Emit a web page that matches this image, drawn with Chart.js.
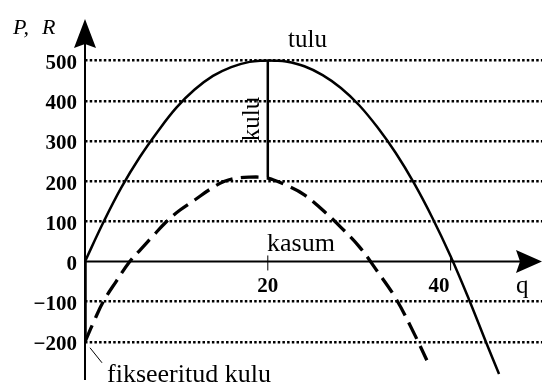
<!DOCTYPE html>
<html>
<head>
<meta charset="utf-8">
<script src="https://cdn.jsdelivr.net/npm/chart.js@4.4.1/dist/chart.umd.min.js"></script>
<style>
  html, body { margin: 0; padding: 0; background: #fff; }
  #wrap { width: 542px; height: 392px; }
</style>
</head>
<body>
<div id="wrap"><canvas id="c"></canvas></div>
<script>
// revenue (tulu)
const revenueQ = [0, 2, 4, 6, 8, 10, 12, 14, 16, 18, 19.5, 20.8, 22, 24, 26, 28, 30, 32, 34, 36, 38, 40, 42, 44, 45.3];
const revenueVal = [0, 97, 185, 260, 325, 383, 428, 462, 484, 497, 500, 500, 498, 486, 464, 432, 389, 334, 270, 195, 109, 13, -94, -208, -280];
// profit (kasum), dashed
const profitQ = [0, 1, 2, 3.4, 4.9, 6.1, 7.3, 8.9, 10.4, 12, 13.7, 15.2, 16.4, 18, 19.7, 20.5, 22, 24, 26, 28, 30, 32, 34, 36, 37.4];
const profitVal = [-200, -148, -100, -50, 0, 30, 60, 99, 128, 153, 180, 199, 207, 210, 209, 204, 190, 166, 128, 85, 37, -25, -92, -179, -246];
// cost bar (kulu) at q = 20
const costQ = [20, 20];
const costVal = [500, 209];
// fixed cost (fikseeritud kulu)
const fixedQ = [0, 0];
const fixedVal = [0, -200];

const yTicks = [500, 400, 300, 200, 100, 0, -100, -200];
const xTicks = [20, 40];

const toPoints = (xs, ys) => xs.map((x, i) => ({ x: x, y: ys[i] }));
const serif = 'Liberation Serif, DejaVu Serif, serif';

const decor = {
  id: 'decor',
  afterDatasetsDraw(chart) {
    const ctx = chart.ctx;
    const xs = chart.scales.x;
    const ys = chart.scales.y;
    const x0 = xs.getPixelForValue(0);
    const y0 = ys.getPixelForValue(0);

    ctx.save();
    ctx.strokeStyle = '#000';
    ctx.fillStyle = '#000';

    // y axis with arrow
    ctx.lineWidth = 2;
    ctx.beginPath();
    ctx.moveTo(x0, 380);
    ctx.lineTo(x0, 44);
    ctx.stroke();
    ctx.beginPath();
    ctx.moveTo(x0, 19);
    ctx.lineTo(x0 + 11, 48);
    ctx.lineTo(x0, 44);
    ctx.lineTo(x0 - 11, 48);
    ctx.closePath();
    ctx.fill();

    // x axis with arrow
    ctx.beginPath();
    ctx.moveTo(x0, y0);
    ctx.lineTo(520, y0);
    ctx.stroke();
    ctx.beginPath();
    ctx.moveTo(542, y0);
    ctx.lineTo(516, y0 - 11.5);
    ctx.lineTo(520, y0);
    ctx.lineTo(516, y0 + 11.5);
    ctx.closePath();
    ctx.fill();

    // x ticks and labels
    ctx.font = 'bold 21px ' + serif;
    ctx.textBaseline = 'alphabetic';
    xTicks.forEach((v, i) => {
      const px = xs.getPixelForValue(v);
      ctx.lineWidth = 1;
      ctx.beginPath();
      ctx.moveTo(px, y0 - 6);
      ctx.lineTo(px, y0 + 9);
      ctx.stroke();
      const last = i === xTicks.length - 1;
      ctx.textAlign = last ? 'right' : 'center';
      ctx.fillText(String(v), last ? px - 1 : px, y0 + 31);
    });

    // leader line to fixed cost
    const yF = ys.getPixelForValue(-200);
    ctx.lineWidth = 1;
    ctx.beginPath();
    ctx.moveTo(x0 + 5, yF + 6);
    ctx.lineTo(x0 + 17, yF + 21);
    ctx.stroke();

    // texts
    ctx.textAlign = 'left';
    ctx.font = 'italic 22px ' + serif;
    ctx.fillText('P,', 13, 34);
    ctx.fillText('R', 42, 34);

    ctx.font = '26px ' + serif;
    ctx.fillText('kasum', 267, 251);
    ctx.fillText('fikseeritud kulu', 107, 382);
    ctx.font = '25px ' + serif;
    ctx.fillText('tulu', 288, 47);
    ctx.fillText('q', 516, 293);

    ctx.save();
    ctx.translate(259, 119);
    ctx.rotate(-Math.PI / 2);
    ctx.textAlign = 'center';
    ctx.fillText('kulu', 0, 0);
    ctx.restore();

    ctx.restore();
  }
};

new Chart(document.getElementById('c'), {
  type: 'scatter',
  data: {
    datasets: [
      {
        label: 'tulu',
        data: toPoints(revenueQ, revenueVal),
        showLine: true,
        borderColor: '#000',
        borderWidth: 2.5,
        pointRadius: 0,
        tension: 0.4
      },
      {
        label: 'kasum',
        data: toPoints(profitQ, profitVal),
        showLine: true,
        borderColor: '#000',
        borderWidth: 3.3,
        borderDash: [18, 8],
        pointRadius: 0,
        tension: 0.4
      },
      {
        label: 'kulu',
        data: toPoints(costQ, costVal),
        showLine: true,
        borderColor: '#000',
        borderWidth: 2.5,
        pointRadius: 0
      },
      {
        label: 'fikseeritud kulu',
        data: toPoints(fixedQ, fixedVal),
        showLine: true,
        borderColor: '#000',
        borderWidth: 3.5,
        pointRadius: 0
      }
    ]
  },
  options: {
    responsive: true,
    maintainAspectRatio: false,
    animation: false,
    layout: { padding: 0 },
    plugins: {
      legend: { display: false },
      tooltip: { enabled: false }
    },
    scales: {
      x: {
        type: 'linear',
        min: 0,
        max: 50,
        display: false
      },
      y: {
        type: 'linear',
        position: 'left',
        min: -325,
        max: 651,
        afterFit: (scale) => {
          scale.width = 85;
          scale.paddingTop = 0;
          scale.paddingBottom = 0;
        },
        afterBuildTicks: (scale) => { scale.ticks = yTicks.map(v => ({ value: v })); },
        grid: {
          drawTicks: false,
          lineWidth: 2.5,
          color: (c) => (c.tick && c.tick.value === 0 ? 'rgba(0,0,0,0)' : '#000')
        },
        border: { display: false, dash: [2.5, 2.2] },
        ticks: {
          padding: 8,
          labelOffset: 3,
          color: '#000',
          font: { family: serif, weight: 'bold', size: 21 },
          callback: (v) => (v < 0 ? '\u2212' + Math.abs(v) : String(v))
        }
      }
    }
  },
  plugins: [decor]
});
</script>
</body>
</html>
